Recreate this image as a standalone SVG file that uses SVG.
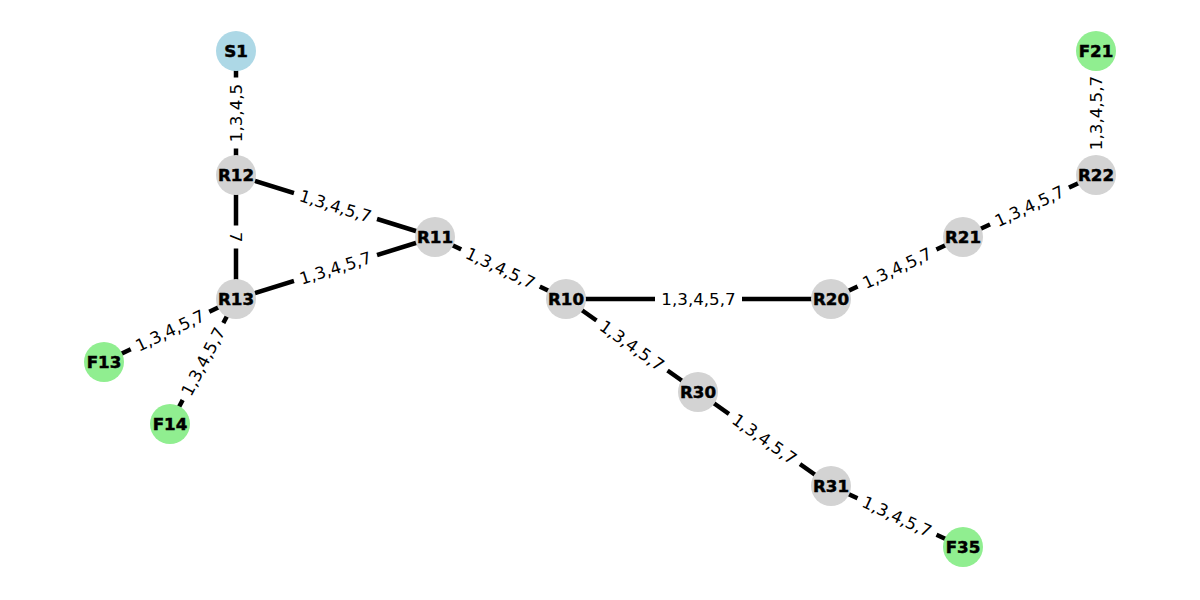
<svg xmlns="http://www.w3.org/2000/svg" width="1200" height="600" viewBox="0 0 1200 600">
<style>
.edge{stroke:#000;stroke-width:4.5;fill:none}
.lbg{fill:#fff;stroke:#fff}
.lbl{font-family:"DejaVu Sans",sans-serif;font-size:16.7px;fill:#000;text-anchor:middle;dominant-baseline:central}
.node circle{stroke:none}
.node text{font-family:"DejaVu Sans",sans-serif;font-weight:bold;font-size:16.7px;fill:#000;stroke:#000;stroke-width:0.5;text-anchor:middle;dominant-baseline:central}
.r{fill:#d3d3d3}.s{fill:#add8e6}.f{fill:#90ee90}
</style>
<rect width="1200" height="600" fill="#fff"/>
<g id="connectors">
<line class="edge" x1="236" y1="51" x2="236" y2="175"/>
<line class="edge" x1="236" y1="175" x2="236" y2="299"/>
<line class="edge" x1="236" y1="175" x2="435" y2="237"/>
<line class="edge" x1="236" y1="299" x2="435" y2="237"/>
<line class="edge" x1="435" y1="237" x2="566" y2="299"/>
<line class="edge" x1="566" y1="299" x2="831" y2="299"/>
<line class="edge" x1="566" y1="299" x2="698" y2="392"/>
<line class="edge" x1="698" y1="392" x2="831" y2="486"/>
<line class="edge" x1="831" y1="486" x2="963" y2="547"/>
<line class="edge" x1="831" y1="299" x2="963" y2="237"/>
<line class="edge" x1="963" y1="237" x2="1096" y2="175"/>
<line class="edge" x1="1096" y1="175" x2="1096" y2="51"/>
<line class="edge" x1="236" y1="299" x2="104" y2="362"/>
<line class="edge" x1="236" y1="299" x2="170" y2="424"/>
<g transform="translate(236,113) rotate(-90)"><rect class="lbg" x="-35" y="-13" width="70" height="26" rx="5"/><text class="lbl">1,3,4,5</text></g>
<g transform="translate(236,237) rotate(90)"><rect class="lbg" x="-11" y="-13" width="22" height="26" rx="5"/><text class="lbl">7</text></g>
<g transform="translate(335.5,206) rotate(17.3)"><rect class="lbg" x="-43" y="-13" width="86" height="26" rx="5"/><text class="lbl">1,3,4,5,7</text></g>
<g transform="translate(335.5,268) rotate(-17.3)"><rect class="lbg" x="-43" y="-13" width="86" height="26" rx="5"/><text class="lbl">1,3,4,5,7</text></g>
<g transform="translate(500.5,268) rotate(25.3)"><rect class="lbg" x="-43" y="-13" width="86" height="26" rx="5"/><text class="lbl">1,3,4,5,7</text></g>
<g transform="translate(698.5,299)"><rect class="lbg" x="-43" y="-13" width="86" height="26" rx="5"/><text class="lbl">1,3,4,5,7</text></g>
<g transform="translate(632,345.5) rotate(35.2)"><rect class="lbg" x="-43" y="-13" width="86" height="26" rx="5"/><text class="lbl">1,3,4,5,7</text></g>
<g transform="translate(764.5,439) rotate(35.2)"><rect class="lbg" x="-43" y="-13" width="86" height="26" rx="5"/><text class="lbl">1,3,4,5,7</text></g>
<g transform="translate(897,516.5) rotate(24.8)"><rect class="lbg" x="-43" y="-13" width="86" height="26" rx="5"/><text class="lbl">1,3,4,5,7</text></g>
<g transform="translate(897,268) rotate(-25.2)"><rect class="lbg" x="-43" y="-13" width="86" height="26" rx="5"/><text class="lbl">1,3,4,5,7</text></g>
<g transform="translate(1029.5,206) rotate(-25)"><rect class="lbg" x="-43" y="-13" width="86" height="26" rx="5"/><text class="lbl">1,3,4,5,7</text></g>
<g transform="translate(1096,113) rotate(-90)"><rect class="lbg" x="-43" y="-13" width="86" height="26" rx="5"/><text class="lbl">1,3,4,5,7</text></g>
<g transform="translate(170,330.5) rotate(-25.5)"><rect class="lbg" x="-43" y="-13" width="86" height="26" rx="5"/><text class="lbl">1,3,4,5,7</text></g>
<g transform="translate(203,361.5) rotate(-62.2)"><rect class="lbg" x="-43" y="-13" width="86" height="26" rx="5"/><text class="lbl">1,3,4,5,7</text></g>
</g>
<g id="S1" class="node"><circle class="s" cx="236" cy="51" r="20"/><text x="236" y="51">S1</text></g>
<g id="R12" class="node"><circle class="r" cx="236" cy="175" r="20"/><text x="236" y="175">R12</text></g>
<g id="R13" class="node"><circle class="r" cx="236" cy="299" r="20"/><text x="236" y="299">R13</text></g>
<g id="R11" class="node"><circle class="r" cx="435" cy="237" r="20"/><text x="435" y="237">R11</text></g>
<g id="R10" class="node"><circle class="r" cx="566" cy="299" r="20"/><text x="566" y="299">R10</text></g>
<g id="R20" class="node"><circle class="r" cx="831" cy="299" r="20"/><text x="831" y="299">R20</text></g>
<g id="R21" class="node"><circle class="r" cx="963" cy="237" r="20"/><text x="963" y="237">R21</text></g>
<g id="R22" class="node"><circle class="r" cx="1096" cy="175" r="20"/><text x="1096" y="175">R22</text></g>
<g id="F21" class="node"><circle class="f" cx="1096" cy="51" r="20"/><text x="1096" y="51">F21</text></g>
<g id="R30" class="node"><circle class="r" cx="698" cy="392" r="20"/><text x="698" y="392">R30</text></g>
<g id="R31" class="node"><circle class="r" cx="831" cy="486" r="20"/><text x="831" y="486">R31</text></g>
<g id="F35" class="node"><circle class="f" cx="963" cy="547" r="20"/><text x="963" y="547">F35</text></g>
<g id="F13" class="node"><circle class="f" cx="104" cy="362" r="20"/><text x="104" y="362">F13</text></g>
<g id="F14" class="node"><circle class="f" cx="170" cy="424" r="20"/><text x="170" y="424">F14</text></g>
</svg>
